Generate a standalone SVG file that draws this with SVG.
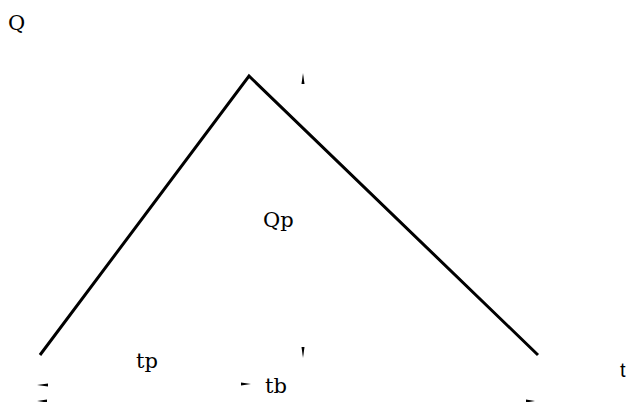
<svg xmlns="http://www.w3.org/2000/svg" width="629" height="402" viewBox="0 0 629 402">
<style>
.serif{font-family:"DejaVu Serif","Liberation Serif",serif;font-size:21px;fill:#000}
.sans{font-family:"Liberation Sans",Arial,sans-serif;font-size:20px;fill:#000}
.ah{fill:#000}
</style>
<rect width="629" height="402" fill="#fff"/>
<g id="connectors">
<polyline points="40,355 249,76 538,355" fill="none" stroke="#000" stroke-width="3"/>
<polygon class="ah" points="303,73 301.5,84 304.5,84"/>
<polygon class="ah" points="303,358 301.5,347 304.5,347"/>
<polygon class="ah" points="37,385 48,383.5 48,386.5"/>
<polygon class="ah" points="251,384 241,382.5 241,385.5"/>
<polygon class="ah" points="37,401 47,399.5 47,402.5"/>
<polygon class="ah" points="535,401 526,399.5 526,402.5"/>
</g>
<g id="label-Q"><text class="serif" x="8" y="30">Q</text></g>
<g id="label-Qp"><text class="serif" x="263" y="227">Qp</text></g>
<g id="label-tp"><text class="serif" x="136" y="368">tp</text></g>
<g id="label-tb"><text class="serif" x="265" y="393">tb</text></g>
<g id="label-t"><text class="sans" x="620" y="377">t</text></g>
</svg>
